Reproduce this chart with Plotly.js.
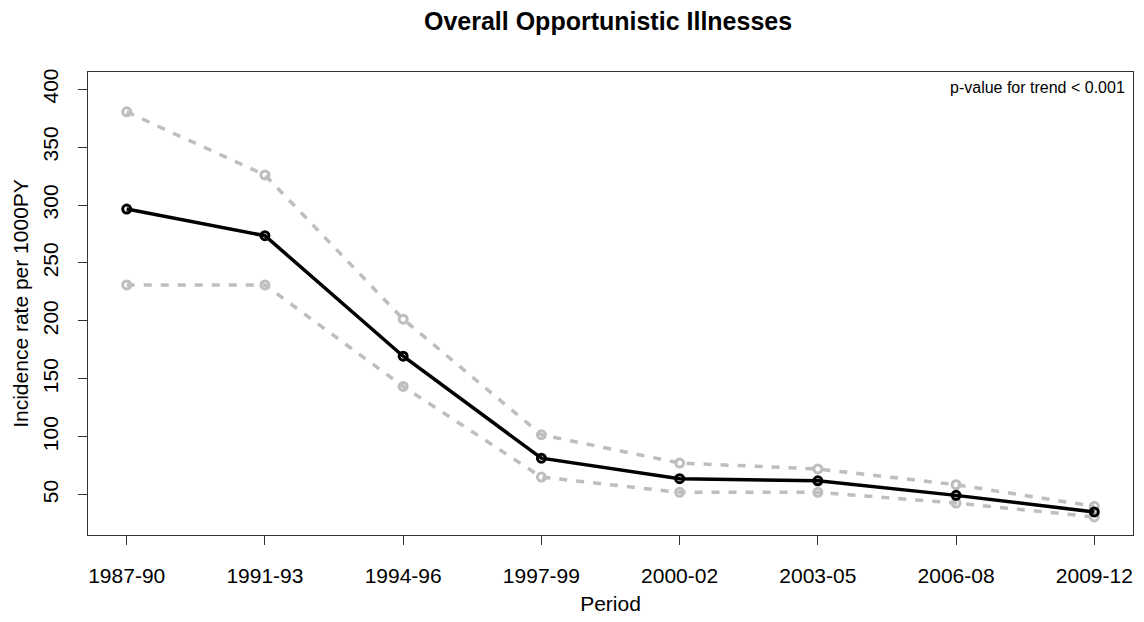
<!DOCTYPE html>
<html>
<head>
<meta charset="utf-8">
<script src="https://cdn.plot.ly/plotly-3.0.1.min.js"></script>
<style>html,body{margin:0;padding:0;background:#fff;}#chart{width:1144px;height:622px;}</style>
</head>
<body>
<div id="chart"></div>
<script>
const periods = ["1987-90","1991-93","1994-96","1997-99","2000-02","2003-05","2006-08","2009-12"];
const incidence = [296.5, 273.5, 169.5, 81.5, 63.8, 62.0, 49.4, 35.1];
const upperCI = [380.4, 325.9, 201.5, 101.7, 77.3, 72.2, 58.6, 40.0];
const lowerCI = [231.0, 231.0, 143.4, 65.2, 52.0, 52.0, 42.8, 30.8];
const yTicks = [50,100,150,200,250,300,350,400];

const idx = periods.map((p,i)=>i);
const grey = "#BEBEBE";
const font = "Liberation Sans, Arial, sans-serif";

const boundStyle = {
  mode: "lines+markers",
  line: {color: grey, width: 3.5, dash: "8px,9px"},
  marker: {symbol: "circle-open", size: 8, color: grey, line: {color: grey, width: 3}},
  hoverinfo: "skip", showlegend: false
};

const traces = [
  Object.assign({x: idx, y: upperCI, type: "scatter"}, boundStyle),
  Object.assign({x: idx, y: lowerCI, type: "scatter"}, boundStyle),
  {x: idx, y: incidence, type: "scatter", mode: "lines+markers",
   line: {color: "#000", width: 3.5},
   marker: {symbol: "circle-open", size: 8, color: "#000", line: {color: "#000", width: 3}},
   showlegend: false}
];

const layout = {
  width: 1144, height: 622,
  margin: {l: 88, r: 11, t: 72, b: 87},
  paper_bgcolor: "#fff", plot_bgcolor: "#fff",
  font: {family: font, color: "#000", size: 21},
  title: {text: "<b>Overall Opportunistic Illnesses</b>", x: 0.5315, xanchor: "center", y: 0.966, yanchor: "middle",
          font: {family: font, size: 25, color: "#000"}},
  xaxis: {
    range: [-0.28, 7.28], tickmode: "array", tickvals: idx, ticktext: periods,
    showgrid: false, zeroline: false, showline: true, mirror: true, linecolor: "#333", linewidth: 1,
    ticks: "outside", ticklen: 9, tickcolor: "#333", tickwidth: 1,
    ticklabelstandoff: 13,
    tickfont: {family: font, size: 21, color: "#000"},
    title: {text: "Period", font: {family: font, size: 21, color: "#000"}, standoff: 10}
  },
  yaxis: {
    range: [15.2, 414.8], tickmode: "array", tickvals: yTicks, ticktext: yTicks.map(String),
    tickangle: -90,
    showgrid: false, zeroline: false, showline: true, mirror: true, linecolor: "#333", linewidth: 1,
    ticks: "outside", ticklen: 9, tickcolor: "#333", tickwidth: 1,
    ticklabelstandoff: 12,
    tickfont: {family: font, size: 21, color: "#000"},
    title: {text: "Incidence rate per 1000PY", font: {family: font, size: 21, color: "#000"}, standoff: 4}
  },
  annotations: [{
    xref: "paper", yref: "paper", x: 0.9945, y: 0.99, xanchor: "right", yanchor: "top",
    text: "p-value for trend < 0.001", showarrow: false,
    font: {family: font, size: 16, color: "#000"}
  }]
};

Plotly.newPlot("chart", traces, layout, {displayModeBar: false, staticPlot: true});
</script>
</body>
</html>
